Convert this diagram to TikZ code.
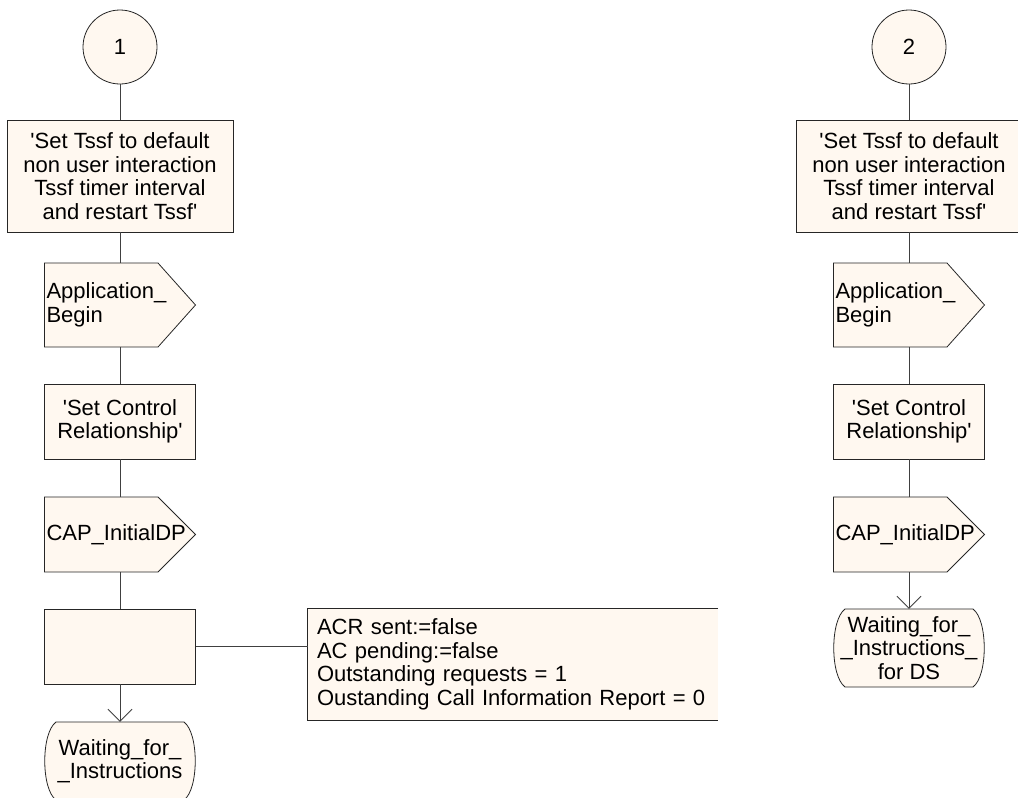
\documentclass[tikz,border=0pt]{standalone}
\usepackage{fontspec}
\setmainfont{Liberation Sans}
\usetikzlibrary{positioning,arrows.meta}

\definecolor{sdlfill}{RGB}{255,248,240}
\newcommand{\sdlfont}{\fontsize{22}{23.5}\selectfont}
\newcommand{\qs}{\textquotesingle}

% signal output: name, x, y, half height, text
\newcommand{\sigout}[5]{%
  \filldraw[sdl] (#2-75.5,#3-#4) -- (#2+38,#3-#4) -- (#2+75.5,#3) -- (#2+38,#3+#4) -- (#2-75.5,#3+#4) -- cycle;
  \node[txt, text width=147pt, minimum height=2*#4, align=left] (#1) at (#2,#3) {#5};}

% state: name, x, y, text
\newcommand{\statebox}[4]{%
  \filldraw[sdl] (#2-64,#3-39) -- (#2+64,#3-39) .. controls (#2+79,#3-28) and (#2+79,#3+28) .. (#2+64,#3+39)
    -- (#2-64,#3+39) .. controls (#2-79,#3+28) and (#2-79,#3-28) .. (#2-64,#3-39) -- cycle;
  \node[txt, minimum width=150pt, minimum height=78pt, align=center] (#1) at (#2,#3) {#4};}

\begin{document}
\begin{tikzpicture}[x=1pt, y=-1pt,
    every node/.style={font=\sdlfont},
    sdl/.style={draw=black!85, line width=0.8pt, fill=sdlfill},
    conn/.style={circle, sdl, minimum size=74pt, inner sep=0pt},
    task/.style={rectangle, sdl, align=center, inner sep=2pt},
    txt/.style={rectangle, inner xsep=2pt, inner ysep=0pt},
    flow/.style={draw=black!75, line width=0.8pt}
]
\useasboundingbox (0,0) rectangle (1018,798);
\clip (0,0) rectangle (1018,798);

% left column
\node[conn] (c1) at (120,47) {1};
\node[task, minimum width=226pt, minimum height=112pt] (tssf1) at (120,176)
  {\qs Set Tssf to default\\non user interaction\\Tssf timer interval\\and restart Tssf\qs};
\sigout{ab1}{120}{305}{42}{Application\_\\Begin}
\node[task, minimum width=151pt, minimum height=75pt] (ctrl1) at (120,421.5)
  {\qs Set Control\\Relationship\qs};
\sigout{idp1}{120}{534.5}{37.5}{CAP\_InitialDP}
\node[task, minimum width=151pt, minimum height=75pt] (init1) at (120,646.5) {};
\statebox{wait1}{120}{761}{Waiting\_for\_\\\_Instructions}

\node[txt, fill=sdlfill, minimum width=410pt, minimum height=111pt, inner xsep=9pt,
  text width=392pt, align=left] (note) at (513,664.5)
  {ACR sent:=false\\AC pending:=false\\Outstanding requests = 1\\Oustanding Call Information Report = 0};
\draw[flow, draw=black!85] (note.north east) -- (note.north west) -- (note.south west) -- (note.south east);

\draw[flow] (c1) -- (tssf1);
\draw[flow] (tssf1) -- (ab1);
\draw[flow] (ab1) -- (ctrl1);
\draw[flow] (ctrl1) -- (idp1);
\draw[flow] (idp1) -- (init1);
\draw[flow, -{Straight Barb[length=12pt,width=24pt]}] (init1) -- (wait1);
\draw[flow] (init1.east) -- (init1.east -| note.west);

% right column
\node[conn] (c2) at (909,47) {2};
\node[task, minimum width=226pt, minimum height=112pt] (tssf2) at (909,176)
  {\qs Set Tssf to default\\non user interaction\\Tssf timer interval\\and restart Tssf\qs};
\sigout{ab2}{909}{305}{42}{Application\_\\Begin}
\node[task, minimum width=151pt, minimum height=75pt] (ctrl2) at (909,421.5)
  {\qs Set Control\\Relationship\qs};
\sigout{idp2}{909}{534.5}{37.5}{CAP\_InitialDP}
\statebox{wait2}{909}{648}{Waiting\_for\_\\\_Instructions\_\\for DS}

\draw[flow] (c2) -- (tssf2);
\draw[flow] (tssf2) -- (ab2);
\draw[flow] (ab2) -- (ctrl2);
\draw[flow] (ctrl2) -- (idp2);
\draw[flow, -{Straight Barb[length=12pt,width=24pt]}] (idp2) -- (wait2);
\end{tikzpicture}
\end{document}
